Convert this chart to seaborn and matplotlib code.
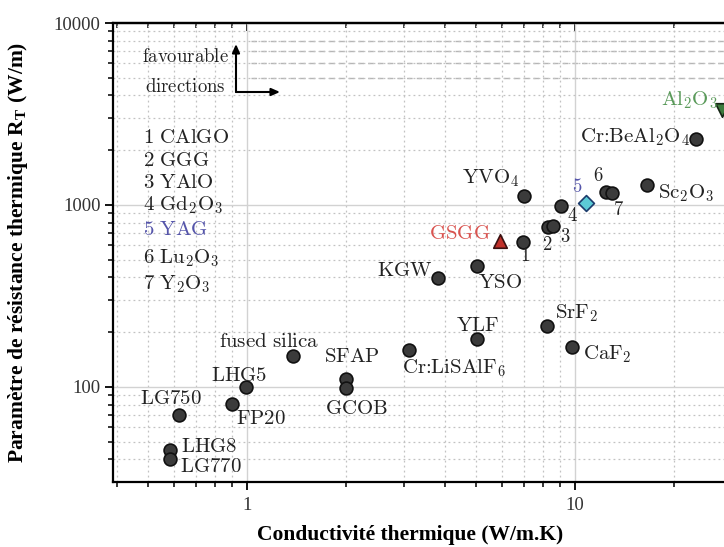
import numpy as np
import pandas as pd
import matplotlib
matplotlib.use("Agg")
import matplotlib.pyplot as plt
import seaborn as sns
from matplotlib.ticker import FixedLocator, FixedFormatter, NullFormatter

# ---------------- data ----------------
materials = ['LG750', 'LHG8', 'LG770', 'LHG5', 'FP20', 'fused silica', 'SFAP', 'GCOB',
             'Cr:LiSAlF6', 'YLF', 'SrF2', 'CaF2', 'KGW', 'YSO', 'GSGG', 'CAlGO', 'YVO4',
             'GGG', 'YAlO', 'Gd2O3', 'YAG', 'Lu2O3', 'Y2O3', 'Sc2O3', 'Cr:BeAl2O4', 'Al2O3']
conductivity = [0.62, 0.58, 0.58, 0.99, 0.90, 1.38, 2.0, 2.0,
                3.12, 5.03, 8.2, 9.8, 3.82, 5.03, 5.9, 6.94, 7.0,
                8.27, 8.57, 9.06, 10.8, 12.4, 13.0, 16.6, 23.4, 28.0]
resistance = [70, 45, 40, 100, 81, 148, 110, 99,
              160, 184, 216, 166, 397, 462, 634, 627, 1120,
              757, 767, 987, 1025, 1179, 1164, 1288, 2306, 3327]
kind = ['other'] * 14 + ['GSGG', 'other', 'other', 'other', 'other', 'other', 'YAG',
                         'other', 'other', 'other', 'other', 'Al2O3']

point_labels = ['LG750', 'LHG8', 'LG770', 'LHG5', 'FP20', r'fused\ silica', 'SFAP', 'GCOB',
                r'Cr\text{:}LiSAlF_6', 'YLF', 'SrF_2', 'CaF_2', 'KGW', 'YSO', 'GSGG', '1', 'YVO_4',
                '2', '3', '4', '5', '6', '7', 'Sc_2O_3', r'Cr\text{:}BeAl_2O_4', 'Al_2O_3']
# label offsets in pixels (dx right, dy up) and horizontal alignment
label_dx = [-8, 11, 10, -7, 4, -24, 6, 11, -7, 0, 8, 11, -6, 1, -10, 2, -5,
            -1, 12, 11, -9, -8, 6, 11, -6, -4]
label_dy = [17, 4, -7, 12, -14, 15, 23, -20, -18, 14, 13, -7, 8, -16, 8, -14, 18,
            -18, -11, -10, 16, 16, -17, -8, 2, 10]
label_ha = ['center', 'left', 'left', 'center', 'left', 'center', 'center', 'center',
            'left', 'center', 'left', 'left', 'right', 'left', 'right', 'center', 'right',
            'center', 'center', 'center', 'center', 'center', 'center', 'left', 'right', 'right']

legend_items = ['1\ CAlGO', '2\ GGG', '3\ YAlO', '4\ Gd_2O_3', '5\ YAG', '6\ Lu_2O_3', '7\ Y_2O_3']
legend_y_px = [137, 160, 182, 205, 229, 258, 284]

x_ticks = [1, 10]
x_ticklabels = ['1', '10']
y_ticks = [100, 1000, 10000]
y_ticklabels = ['100', '1000', '10000']
dash_levels = [5000, 6000, 7000, 8000]

df = pd.DataFrame({'material': materials, 'k': conductivity, 'R': resistance, 'kind': kind})

# ---------------- style ----------------
plt.rcParams['mathtext.fontset'] = 'cm'
serif = ['Liberation Serif', 'DejaVu Serif']

W, H = 724, 547
fig = plt.figure(figsize=(W / 100, H / 100), dpi=100)
AX_L, AX_R, AX_T, AX_B = 113, 772.6, 23, 482
ax = fig.add_axes([AX_L / W, (H - AX_B) / H, (AX_R - AX_L) / W, (AX_B - AX_T) / H])
ax.set_xscale('log')
ax.set_yscale('log')
ax.set_xlim(0.39, 40)
ax.set_ylim(30, 10000)
ax.set_axisbelow(True)

def axfrac(px, py):
    return ((px - AX_L) / (AX_R - AX_L), (AX_B - py) / (AX_B - AX_T))

# grid
ax.grid(which='major', color='#d2d2d2', lw=1.0, ls='-')
ax.grid(which='minor', color='#c2c2c2', lw=0.9, ls=(0, (1.5, 2.5)))
ax.hlines(dash_levels, 1.03, 40, colors='#b5b5b5', lw=1.0, linestyles=(0, (4, 3)), zorder=0.5)

# markers
styles = {
    'other': dict(marker='o', color='#3b3b3b', edgecolor='#111111', s=85),
    'GSGG': dict(marker='^', color='#c0302a', edgecolor='#3a1010', s=95),
    'YAG': dict(marker='D', color='#5ccbd6', edgecolor='#1c3c6c', s=65),
    'Al2O3': dict(marker='v', color='#3d7a3d', edgecolor='#152515', s=95),
}
for kname, st in styles.items():
    sub = df[df['kind'] == kname]
    sns.scatterplot(data=sub, x='k', y='R', ax=ax, marker=st['marker'], color=st['color'],
                    edgecolor=st['edgecolor'], linewidth=1.2, s=st['s'], legend=False, zorder=3)

# point labels
for i in range(len(materials)):
    lab = point_labels[i]
    color = '#222222'
    if materials[i] == 'GSGG':
        color = '#d9534f'
    elif materials[i] == 'Al2O3':
        color = '#5a9a5a'
    elif materials[i] == 'YAG':
        color = '#5555aa'
    if lab.isdigit():
        txt = r'$\mathbf{' + lab + '}$'
        fs = 13.5
    else:
        txt = r'$\mathrm{' + lab + '}$'
        fs = 15
    ax.annotate(txt, (conductivity[i], resistance[i]),
                xytext=(label_dx[i] * 0.72, label_dy[i] * 0.72), textcoords='offset points',
                ha=label_ha[i], va='center', fontsize=fs, color=color, zorder=4)

# left legend list
for item, py in zip(legend_items, legend_y_px):
    c = '#5555aa' if item.startswith('5') else '#222222'
    ax.text(*axfrac(143, py), r'$\mathrm{' + item + '}$', transform=ax.transAxes,
            ha='left', va='center', fontsize=15, color=c)

# favourable directions
ax.text(*axfrac(185, 56), r'$\mathrm{favourable}$', transform=ax.transAxes,
        ha='center', va='center', fontsize=13.5, color='#222222')
ax.text(*axfrac(185, 86), r'$\mathrm{directions}$', transform=ax.transAxes,
        ha='center', va='center', fontsize=13.5, color='#222222')
arrow_kw = dict(arrowstyle='-|>,head_length=0.5,head_width=0.22', lw=1.5, color='black',
                shrinkA=0, shrinkB=0)
ax.annotate('', xy=axfrac(236, 44), xytext=axfrac(236, 92), xycoords='axes fraction',
            textcoords='axes fraction', arrowprops=arrow_kw)
ax.annotate('', xy=axfrac(280, 92), xytext=axfrac(236, 92), xycoords='axes fraction',
            textcoords='axes fraction', arrowprops=arrow_kw)

# ticks
ax.xaxis.set_major_locator(FixedLocator(x_ticks))
ax.xaxis.set_major_formatter(FixedFormatter(x_ticklabels))
ax.xaxis.set_minor_locator(FixedLocator([0.4, 0.5, 0.6, 0.7, 0.8, 0.9, 2, 3, 4, 5, 6, 7, 8, 9, 20, 30]))
ax.xaxis.set_minor_formatter(NullFormatter())
ax.yaxis.set_major_locator(FixedLocator(y_ticks))
ax.yaxis.set_major_formatter(FixedFormatter(y_ticklabels))
ax.yaxis.set_minor_locator(FixedLocator([40, 50, 60, 70, 80, 90, 200, 300, 400, 500, 600,
                                         700, 800, 900, 2000, 3000, 4000, 5000, 6000, 7000,
                                         8000, 9000]))
ax.yaxis.set_minor_formatter(NullFormatter())
ax.tick_params(which='major', direction='out', length=6, width=1.3, colors='black',
               labelcolor='#333333', labelsize=13.5, pad=3)
ax.tick_params(which='minor', direction='out', length=3.5, width=1.1, colors='black')
ax.tick_params(axis='x', which='major', pad=5)
for lab in ax.get_xticklabels() + ax.get_yticklabels():
    lab.set_fontfamily(serif)

top = ax.secondary_xaxis('top')
top.xaxis.set_major_locator(FixedLocator(x_ticks))
top.xaxis.set_minor_locator(FixedLocator([0.4, 0.5, 0.6, 0.7, 0.8, 0.9, 2, 3, 4, 5, 6, 7, 8, 9, 20, 30]))
top.xaxis.set_major_formatter(NullFormatter())
top.xaxis.set_minor_formatter(NullFormatter())
top.tick_params(which='major', direction='in', length=6, width=1.3)
top.tick_params(which='minor', direction='in', length=3.5, width=1.1)
top.spines['top'].set_linewidth(1.6)

for sp in ['left', 'bottom', 'top']:
    ax.spines[sp].set_linewidth(1.6)
    ax.spines[sp].set_color('black')

ax.set_xlabel('Conductivité thermique (W/m.K)', fontfamily=serif, fontweight='bold',
              fontsize=15.5, color='black')
ax.set_ylabel(r'Paramètre de résistance thermique R$_\mathregular{T}$ (W/m)', fontfamily=serif,
              fontweight='bold', fontsize=15.5, color='black')
ax.xaxis.set_label_coords(*axfrac(410, 525))
ax.yaxis.set_label_coords(*axfrac(30, 252))

fig.savefig('out.png', dpi=100)
